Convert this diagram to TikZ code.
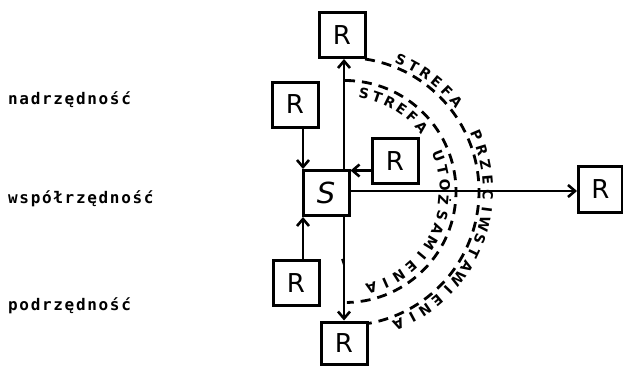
\documentclass[tikz,border=0pt]{standalone}
\usepackage{fontspec}
\setmainfont{DejaVu Sans}
\newfontfamily\labelfont[LetterSpace=10.5]{DejaVu Sans Mono}
\newfontfamily\zonefont{DejaVu Sans}
\usetikzlibrary{arrows.meta,calc}

\begin{document}
\begin{tikzpicture}[x=1pt,y=1pt,
  box/.style={draw,line width=3pt,minimum width=46pt,minimum height=45pt,
    inner sep=0pt,font=\fontsize{26}{26}\selectfont},
  link/.style={line width=2.6pt,-{Straight Barb[length=7pt,width=12pt,line width=2.6pt]}},
  zone/.style={line width=2.8pt,dash pattern=on 10pt off 7pt},
  zl/.style={inner sep=0pt,font=\zonefont\bfseries\fontsize{14}{14}\selectfont},
  lbl/.style={anchor=base west,inner sep=0pt,
    font=\labelfont\bfseries\fontsize{16}{16}\selectfont}]
\useasboundingbox (0,0) rectangle (623,365);

% level labels
\node[lbl] (lnad) at (8,261) {nadrzędność};
\node[lbl] (lwsp) at (8,162) {współrzędność};
\node[lbl] (lpod) at (8,55)  {podrzędność};

% subject and related elements
\node[box] (S)   at (326,172)  {\fontsize{29}{29}\selectfont\itshape S};
\node[box] (Rt)  at (342,330)  {R};
\node[box] (Rul) at (295,260.5){R};
\node[box] (Rm)  at (395,204)  {R};
\node[box] (Rbl) at (296,82)   {R};
\node[box,minimum height=42pt] (Rb) at (344,22) {R};
\node[box,minimum width=44pt,minimum height=46pt] (Rr) at (600.5,176) {R};

% attachment points on the boxes
\coordinate (snw) at ([xshift=1.5pt]S.north west);
\coordinate (ssw) at ([xshift=1.5pt]S.south west);
\coordinate (sne) at ([yshift=-1.5pt]S.north east);
\coordinate (se)  at ([yshift=2pt]S.east);
\coordinate (rtb) at ([xshift=2pt]Rt.south);

% relations
\draw[link] (Rul.south -| snw) -- (snw);
\draw[link] (Rbl.north -| ssw) -- (ssw);
\draw[link] (Rm.west |- sne) -- (sne);
\draw[link] (S.north -| rtb) -- (rtb);
\draw[link] (S.south -| Rb.north) -- (Rb.north);
\draw[link] (se) -- (Rr.west |- se);
\draw[line width=1.8pt] ($(S.south -| Rb.north)+(-2,-42)$) -- ++(2,-6);

% zones
\coordinate (C) at (345,173.5);
\draw[zone] ([shift={(90:111)}]C) arc[start angle=90,end angle=-89,radius=111];
\draw[zone] ([shift={(81.4:134)}]C) arc[start angle=81.4,end angle=-79.7,radius=134];

\foreach \a/\l [count=\i] in {79/S,71.2/T,63.4/R,55.6/E,47.8/F,40/A}
  \node[zl,rotate=\a-90] (ia\i) at ([shift={(\a:100)}]C) {\l};
\foreach \a/\l [count=\i] in {21/U,12.3/T,3.6/O,-5.1/Ż,-13.8/S,-22.5/A,
    -31.2/M,-39.9/I,-48.6/E,-57.3/N,-66/I,-74.7/A}
  \node[zl,rotate=\a-90] (ib\i) at ([shift={(\a:100)}]C) {\l};
\foreach \a/\l [count=\i] in {67/S,61.4/T,55.8/R,50.2/E,44.6/F,39/A}
  \node[zl,rotate=\a-90] (oa\i) at ([shift={(\a:143)}]C) {\l};
\foreach \a/\l [count=\i] in {23/P,16.9/R,10.9/Z,4.8/E,-1.3/C,-7.3/I,-13.4/W,
    -19.5/S,-25.5/T,-31.6/A,-37.7/W,-43.7/I,-49.8/E,-55.9/N,-61.9/I,-68/A}
  \node[zl,rotate=\a-90] (ob\i) at ([shift={(\a:143)}]C) {\l};
\end{tikzpicture}
\end{document}
